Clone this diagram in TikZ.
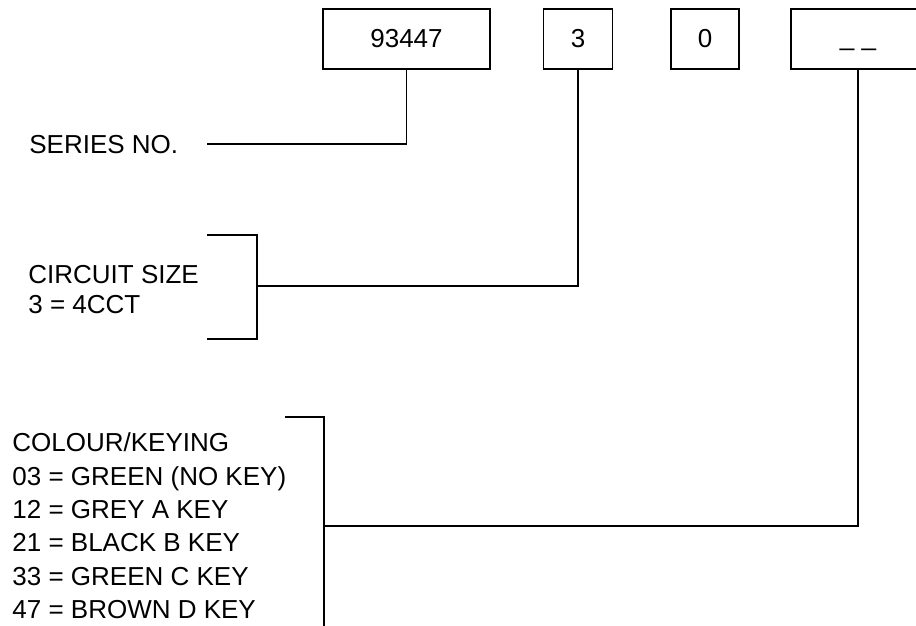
\documentclass[tikz,border=0pt]{standalone}
\usepackage{fontspec}
\setmainfont{Liberation Sans}
\usetikzlibrary{positioning,calc}
\tikzset{
  field/.style={draw, line width=0.8pt, minimum height=30pt, inner sep=0pt, font=\fontsize{13}{16}\selectfont},
  caption/.style={anchor=west, align=left, inner sep=0pt, font=\fontsize{13}{15}\selectfont},
  lead/.style={line width=0.8pt},
}

\begin{document}
\begin{tikzpicture}[x=0.5pt, y=-0.5pt]
  \useasboundingbox (0,0) rectangle (916,626);
  \clip (0,0) rectangle (916,626);

  % part number fields
  \node[field, minimum width=83.5pt] (series) at (406.5,39) {93447};
  \node[field, minimum width=34.5pt] (size) at (578,39) {3};
  \node[field, minimum width=34pt] (fixed) at (705,39) {0};
  \node[field, minimum width=67pt] (colour) at (858,39) {\vphantom{0}\_\ \_};

  % descriptions
  \node[caption] (seriestxt) at (29,145) {SERIES NO.};
  \node[caption] (sizetxt) at (28,290) {CIRCUIT SIZE\\3 = 4CCT};
  \node[caption, font=\fontsize{13}{16.7}\selectfont] (colourtxt) at (12,526)
    {COLOUR/KEYING\\03 = GREEN (NO KEY)\\12 = GREY A KEY\\21 = BLACK B KEY\\33 = GREEN C KEY\\47 = BROWN D KEY};

  \coordinate (seriesend) at (207,144);
  \coordinate (sizemid) at (257,286);
  \coordinate (colourmid) at (324,526);

  % brackets
  \draw[lead] (207,235) -| (257,339) -- (207,339);
  \draw[lead] (285,417) -| (324,640);

  \draw[lead] (series.south) |- (seriesend);
  \draw[lead] (size.south) |- (sizemid);
  \draw[lead] (colour.south) |- (colourmid);
\end{tikzpicture}
\end{document}
